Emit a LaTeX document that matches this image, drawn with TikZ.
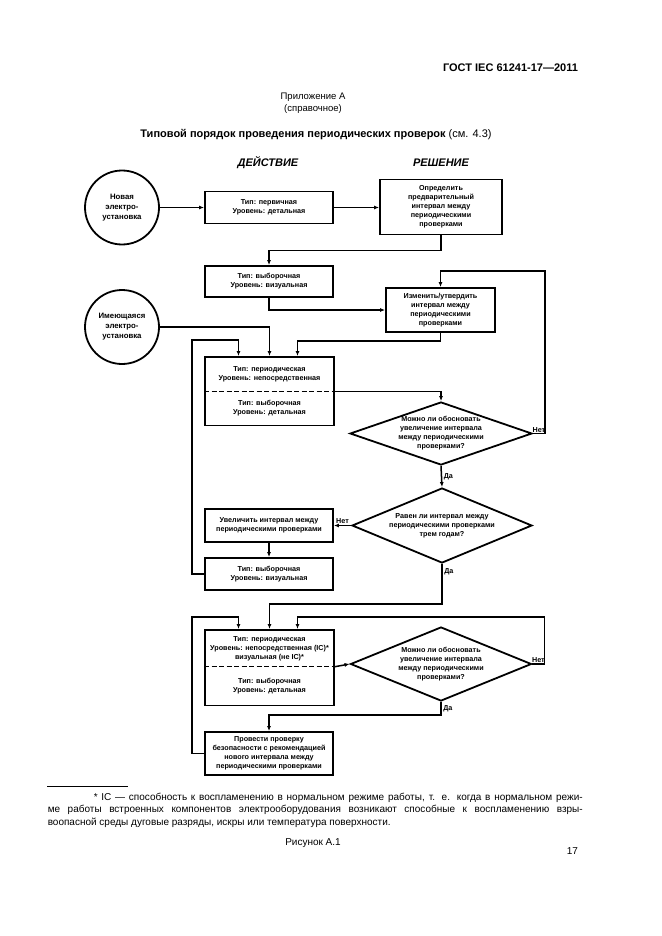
\documentclass[tikz,border=0pt]{standalone}
\usepackage{fontspec}
\setmainfont{Liberation Sans}
\usetikzlibrary{shapes,arrows.meta,positioning,calc}

\newcommand\boxtxt{\bfseries\fontsize{7.2}{9}\selectfont}
\newcommand\circtxt{\bfseries\fontsize{7.8}{10}\selectfont}
\newcommand\notetxt{\fontsize{10}{12.5}\selectfont}

\begin{document}
\begin{tikzpicture}[x=1pt,y=-1pt,line width=1.5pt,
  >={Latex[length=5pt,width=4pt]},
  src/.style={circle,draw,line width=1.8pt,minimum size=74pt,inner sep=0pt,align=center,font=\circtxt},
  act/.style={rectangle,draw,line width=1.8pt,minimum width=128pt,inner sep=1pt,align=center,font=\boxtxt},
  twin/.style={rectangle split,rectangle split parts=2,rectangle split draw splits=false,draw,line width=1.8pt,inner sep=0pt,font=\boxtxt},
  ask/.style={diamond,draw,line width=1.8pt,aspect=2.9,inner sep=-6pt,align=center,font=\boxtxt},
  lbl/.style={font=\boxtxt,inner sep=1.5pt}]
\useasboundingbox (0,0) rectangle (661,936);

% page head
\node[anchor=east,font=\bfseries\fontsize{11}{13}\selectfont] (gost) at (582,68) {ГОСТ IEC 61241-17—2011};
\node[align=center,font=\fontsize{9.5}{12}\selectfont] (annex) at (313,103) {Приложение А\\(справочное)};
\node[font=\fontsize{11}{13}\selectfont] (title) at (316,135) {\textbf{Типовой порядок проведения периодических проверок} (см. 4.3)};
\node[font=\bfseries\itshape\fontsize{11}{13}\selectfont] (hact) at (268,163) {ДЕЙСТВИЕ};
\node[font=\bfseries\itshape\fontsize{11}{13}\selectfont] (hdec) at (441,163) {РЕШЕНИЕ};

% nodes
\node[src] (c1) at (122,207.5) {Новая\\электро-\\установка};
\node[act,minimum height=32pt] (a1) at (269,207.5) {Тип: первичная\\Уровень: детальная};
\node[act,minimum width=122pt,minimum height=55pt] (r1) at (441,207) {Определить\\предварительный\\интервал между\\периодическими\\проверками};
\node[act,minimum height=31pt] (a2) at (269,281.5) {Тип: выборочная\\Уровень: визуальная};
\node[act,minimum width=109pt,minimum height=44pt] (r2) at (440.5,310) {Изменить/утвердить\\интервал между\\периодическими\\проверками};
\node[src] (c2) at (122,327) {Имеющаяся\\электро-\\установка};
\node[twin,anchor=north] (a3) at (269.5,356) {\parbox[c][33pt][c]{129pt}{\centering Тип: периодическая\\Уровень: непосредственная}\nodepart{two}\parbox[c][32pt][c]{129pt}{\centering Тип: выборочная\\Уровень: детальная}};
\node[ask,minimum width=182pt,minimum height=63pt] (d1) at (441,433.5) {Можно ли обосновать\\увеличение интервала\\между периодическими\\проверками?};
\node[ask,minimum width=180pt,minimum height=75pt] (d2) at (442,525.5) {Равен ли интервал между\\периодическими проверками\\трем годам?};
\node[act,minimum height=33pt] (a4) at (269,525.5) {Увеличить интервал между\\периодическими проверками};
\node[act,minimum height=32pt] (a5) at (269,574) {Тип: выборочная\\Уровень: визуальная};
\node[twin,anchor=north] (a6) at (269.5,629) {\parbox[c][35pt][c]{129pt}{\centering Тип: периодическая\\Уровень: непосредственная (IC)*\\визуальная (не IC)*}\nodepart{two}\parbox[c][37pt][c]{129pt}{\centering Тип: выборочная\\Уровень: детальная}};
\node[ask,minimum width=181pt,minimum height=74pt] (d3) at (441,664) {Можно ли обосновать\\увеличение интервала\\между периодическими\\проверками?};
\node[act,minimum height=43pt] (a7) at (269,753.5) {Провести проверку\\безопасности с рекомендацией\\нового интервала между\\периодическими проверками};

\draw[dash pattern=on 5pt off 2.5pt,line width=0.9pt] (a3.text split west) -- (a3.text split east);
\draw[dash pattern=on 5pt off 2.5pt,line width=0.9pt] (a6.text split west) -- (a6.text split east);

% connectors
\draw[->] (c1.east) -- (a1.west);
\draw[->] (a1.east) -- (r1.west |- a1.east);
\draw[->] (r1.south) -- ++(0,15) -| (a2.north);
\draw[->] (a2.south) |- (r2.west);
\draw[->] (r2.south) -- ++(0,8) -| ([xshift=28pt]a3.north);
\draw[->] (c2.east) -| (a3.north);
\draw[->] (a5.west) -- ++(-12,0) |- ([xshift=-31pt,yshift=16pt]a3.north) -- ([xshift=-31pt]a3.north);
\draw[->] (a3.text split east) -| (d1.north);
\draw[->] (d1.east) -- node[lbl,above=-1pt]{Нет} ++(12,0) |- ([yshift=16pt]r2.north) -- (r2.north);
\draw[->] (d1.south) -- node[lbl,right]{Да} (d2.north);
\draw[->] (d2.west) -- node[lbl,above]{Нет} (a4.east);
\draw[->] (a4.south) -- (a5.north);
\draw[->] (d2.south) -- node[lbl,right,pos=0.2]{Да} ++(0,40) -| (a6.north);
\draw[->] (a6.text split east) -- (d3.west);
\draw[->] (d3.east) -- node[lbl,above=-1pt]{Нет} ++(12,0) |- ([xshift=28pt,yshift=12pt]a6.north) -- ([xshift=28pt]a6.north);
\draw[->] (d3.south) -- node[lbl,right]{Да} ++(0,13) -| (a7.north);
\draw[->] (a7.west) -- ++(-12,0) |- ([xshift=-31pt,yshift=12pt]a6.north) -- ([xshift=-31pt]a6.north);

% footnote
\draw[line width=0.6pt] (47,786) -- (128,786);
\node[anchor=north west,text width=535pt,align=justify,inner sep=0pt,font=\notetxt] (note) at (47,792) {\hspace*{46pt}* IC — способность к воспламенению в нормальном режиме работы, т. е. когда в нормальном режи-\linebreak ме работы встроенных компонентов электрооборудования возникают способные к воспламенению взры-\linebreak воопасной среды дуговые разряды, искры или температура поверхности.};
\node[font=\notetxt] (fig) at (313,843) {Рисунок А.1};
\node[anchor=east,font=\notetxt] (page) at (582,851) {17};
\end{tikzpicture}
\end{document}
